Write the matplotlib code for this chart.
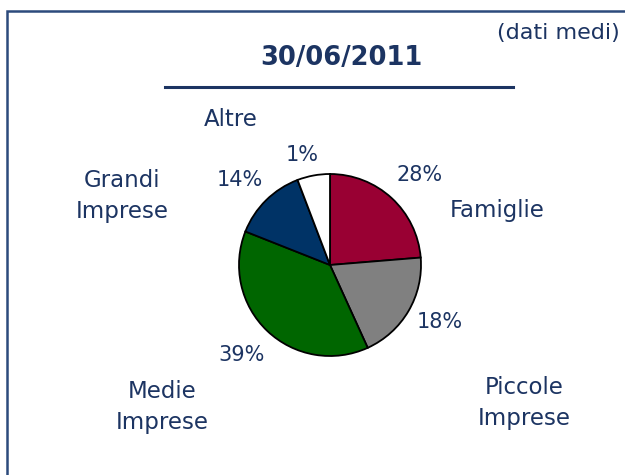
import matplotlib
matplotlib.use("Agg")
import matplotlib.pyplot as plt
from matplotlib.patches import Rectangle

# Data
categories = ["Famiglie", "Piccole\nImprese", "Medie\nImprese", "Grandi\nImprese", "Altre"]
pct_labels = ["28%", "18%", "39%", "14%", "1%"]
slice_shares = [23.7, 19.5, 37.8, 13.2, 5.8]   # drawn slice sizes
colors = ["#990033", "#808080", "#006600", "#003366", "#ffffff"]

title = "30/06/2011"
note = "(dati medi)"

W, H = 625, 475
fig = plt.figure(figsize=(W / 100, H / 100), dpi=100)
ax = fig.add_axes([0, 0, 1, 1])
ax.set_xlim(0, W)
ax.set_ylim(0, H)
ax.set_aspect("equal")
ax.axis("off")

txt = "#1c3462"

def Y(y):
    return H - y

# frame
ax.add_patch(Rectangle((7, Y(480)), 700, 480 - 10.5, fill=False,
                       edgecolor="#2c4a7c", linewidth=1.8))

ax.pie(slice_shares, colors=colors, startangle=90, counterclock=False,
       center=(330, Y(265)), radius=91,
       wedgeprops=dict(edgecolor="black", linewidth=1.3))
ax.set_xlim(0, W)
ax.set_ylim(0, H)

ax.text(620, Y(33), note, ha="right", va="center", fontsize=16, color=txt)
ax.text(341, Y(58), title, ha="center", va="center", fontsize=18.5,
        fontweight="bold", color=txt)
ax.plot([165, 513], [Y(87), Y(87)], color="#1c3462", linewidth=2.2)

cat_pos = [(497, 210), (524, 403), (162, 407), (122, 196), (231, 120)]
pct_pos = [(420, 175), (440, 322), (242, 355), (240, 180), (302, 155)]

for c, (x, y) in zip(categories, cat_pos):
    ax.text(x, Y(y), c, ha="center", va="center", fontsize=16.5, color=txt,
            linespacing=1.4)
for p, (x, y) in zip(pct_labels, pct_pos):
    ax.text(x, Y(y), p, ha="center", va="center", fontsize=15, color=txt)

fig.savefig("out.png", dpi=100)
